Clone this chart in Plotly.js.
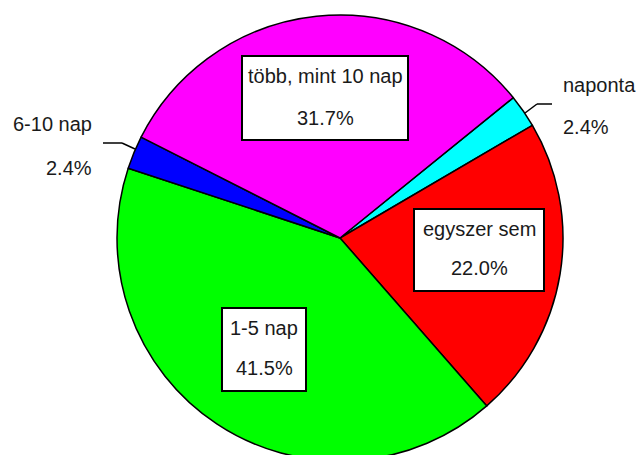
<!DOCTYPE html>
<html><head><meta charset="utf-8">
<script src="https://cdn.plot.ly/plotly-3.0.1.min.js"></script>
<style>html,body{margin:0;padding:0;overflow:hidden;background:#fff}</style>
</head><body><div id="chart"></div>
<script>
// ---- data ----
const labels = ['naponta', 'egyszer sem', '1-5 nap', '6-10 nap', 'több, mint 10 nap'];
const values = [2.4, 22.0, 41.5, 2.4, 31.7];
const colors = ['#00FFFF', '#FF0000', '#00FF00', '#0000FF', '#FF00FF'];
const percentText = values.map(v => v.toFixed(1) + '%');

// ---- layout geometry (pixels) ----
const W = 636, H = 476;
const CX = 340, CY = 238, R = 223;
const px = x => x / W;
const py = y => (H - y) / H;
const FONT = {family: 'Liberation Sans, Arial, sans-serif', size: 20, color: '#1a1a1a'};

// label placement per slice index
const place = {
  0: {type: 'out', x: 562, anchor: 'left', y1: 85, y2: 127, leader: [[525,113],[537,104],[552,104]]},
  1: {type: 'in', box: [414,209,544,291], cx: 479, y1: 229, y2: 268},
  2: {type: 'in', box: [222,308,306,391], cx: 264, y1: 328, y2: 368},
  3: {type: 'out', x: 93, anchor: 'right', y1: 124, y2: 168, leader: [[103,143],[122,143],[135,149]]},
  4: {type: 'in', box: [242,56,408,140], cx: 325, y1: 76, y2: 118}
};

const shapes = [], annotations = [];
labels.forEach((lab, i) => {
  const p = place[i];
  if (p.type === 'in') {
    const [x0, y0, x1, y1] = p.box;
    shapes.push({type: 'rect', xref: 'paper', yref: 'paper', layer: 'above',
      x0: px(x0), x1: px(x1), y0: py(y1), y1: py(y0),
      fillcolor: '#ffffff', line: {color: '#000000', width: 2}});
    annotations.push({xref: 'paper', yref: 'paper', x: px(p.cx), y: py(p.y1), text: lab,
      showarrow: false, xanchor: 'center', yanchor: 'middle', font: FONT});
    annotations.push({xref: 'paper', yref: 'paper', x: px(p.cx), y: py(p.y2), text: percentText[i],
      showarrow: false, xanchor: 'center', yanchor: 'middle', font: FONT});
  } else {
    for (let k = 0; k < p.leader.length - 1; k++) {
      shapes.push({type: 'line', xref: 'paper', yref: 'paper', layer: 'above',
        x0: px(p.leader[k][0]), y0: py(p.leader[k][1]),
        x1: px(p.leader[k+1][0]), y1: py(p.leader[k+1][1]),
        line: {color: '#000000', width: 1.5}});
    }
    annotations.push({xref: 'paper', yref: 'paper', x: px(p.x), y: py(p.y1), text: lab,
      showarrow: false, xanchor: p.anchor, yanchor: 'middle', font: FONT, borderpad: 0});
    annotations.push({xref: 'paper', yref: 'paper', x: px(p.x), y: py(p.y2), text: percentText[i],
      showarrow: false, xanchor: p.anchor, yanchor: 'middle', font: FONT, borderpad: 0});
  }
});

const trace = {
  type: 'pie',
  labels: labels,
  values: values,
  sort: false,
  direction: 'clockwise',
  rotation: 51,
  textinfo: 'none',
  hoverinfo: 'label+percent',
  marker: {colors: colors, line: {color: '#000000', width: 1.5}},
  domain: {x: [px(CX - R), px(CX + R)], y: [py(CY + R), py(CY - R)]}
};

Plotly.newPlot('chart', [trace], {
  width: W, height: H,
  margin: {l: 0, r: 0, t: 0, b: 0},
  paper_bgcolor: '#ffffff',
  showlegend: false,
  shapes: shapes,
  annotations: annotations
}, {displayModeBar: false, staticPlot: true});
</script></body></html>
